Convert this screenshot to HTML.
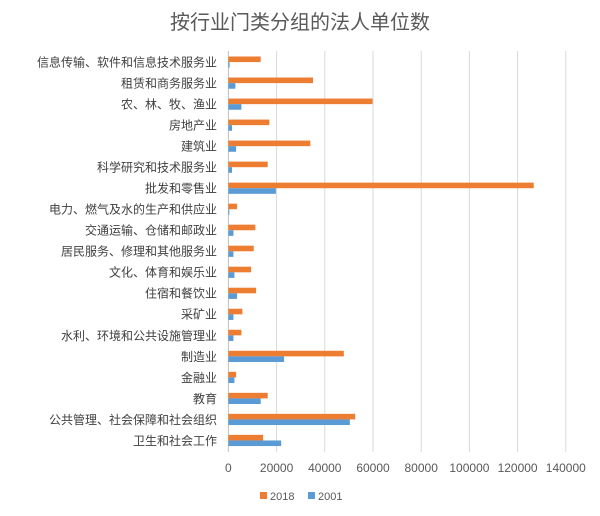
<!DOCTYPE html>
<html><head><meta charset="utf-8"><style>
body{margin:0;background:#fff;}
svg text{font-family:"Liberation Sans","Noto Sans CJK SC",sans-serif;}
</style></head><body>
<svg width="600" height="511" viewBox="0 0 600 511" xmlns="http://www.w3.org/2000/svg">
<text x="300" y="29" text-anchor="middle" font-size="20" fill="#595959">按行业门类分组的法人单位数</text>
<g id="grid"></g><g id="bars"></g><g id="labels"></g><g id="ticks"></g>
<g>
<rect x="260" y="492" width="7" height="7" fill="#ED7D31"/>
<text x="270" y="500" font-size="11" fill="#595959">2018</text>
<rect x="308" y="492" width="7" height="7" fill="#5B9BD5"/>
<text x="318" y="500" font-size="11" fill="#595959">2001</text>
</g>
</svg>
<script>
const categories=["信息传输、软件和信息技术服务业","租赁和商务服务业","农、林、牧、渔业","房地产业","建筑业","科学研究和技术服务业","批发和零售业","电力、燃气及水的生产和供应业","交通运输、仓储和邮政业","居民服务、修理和其他服务业","文化、体育和娱乐业","住宿和餐饮业","采矿业","水利、环境和公共设施管理业","制造业","金融业","教育","公共管理、社会保障和社会组织","卫生和社会工作"];
const values2018=[13400,35100,59800,17000,34000,16300,126700,3600,11200,10500,9400,11500,5800,5400,47900,3200,16300,52600,14400];
const values2001=[500,2900,5400,1500,3200,1500,19700,400,2100,2100,2500,3600,2100,2100,23100,2500,13400,50400,21900];
const tickValues=[0,20000,40000,60000,80000,100000,120000,140000];
const NS="http://www.w3.org/2000/svg";
const x0=228.4,pxPer=48.2/20000,y0=56.5,step=21.02;
const xs=v=>x0+v*pxPer;
function mk(t,a,p){const e=document.createElementNS(NS,t);for(const k in a)e.setAttribute(k,a[k]);p.appendChild(e);return e;}
const grid=document.getElementById('grid'),bars=document.getElementById('bars'),labels=document.getElementById('labels'),ticks=document.getElementById('ticks');
tickValues.forEach(v=>{
 const l=mk('line',{x1:xs(v),x2:xs(v),y1:51,y2:452,stroke:v===0?'#bfbfbf':'#d9d9d9','stroke-width':1},grid);
 
 
 const t=mk('text',{x:xs(v),y:472,'text-anchor':'middle','font-size':12,fill:'#595959'},ticks);
 t.textContent=v;
 
 
});
categories.forEach((c,i)=>{
 const yc=y0+i*step;
 const a=mk('rect',{x:x0,y:yc,width:values2018[i]*pxPer,height:5.6,fill:'#ED7D31'},bars);
 
 
 const b=mk('rect',{x:x0,y:yc+5.6,width:Math.max(values2001[i]*pxPer,0.8),height:5.6,fill:'#5B9BD5'},bars);
 
 
 const t=mk('text',{x:217,y:yc+10,'text-anchor':'end','font-size':12,fill:'#404040'},labels);
 t.textContent=c;
 
 
});
</script>
</body></html>
